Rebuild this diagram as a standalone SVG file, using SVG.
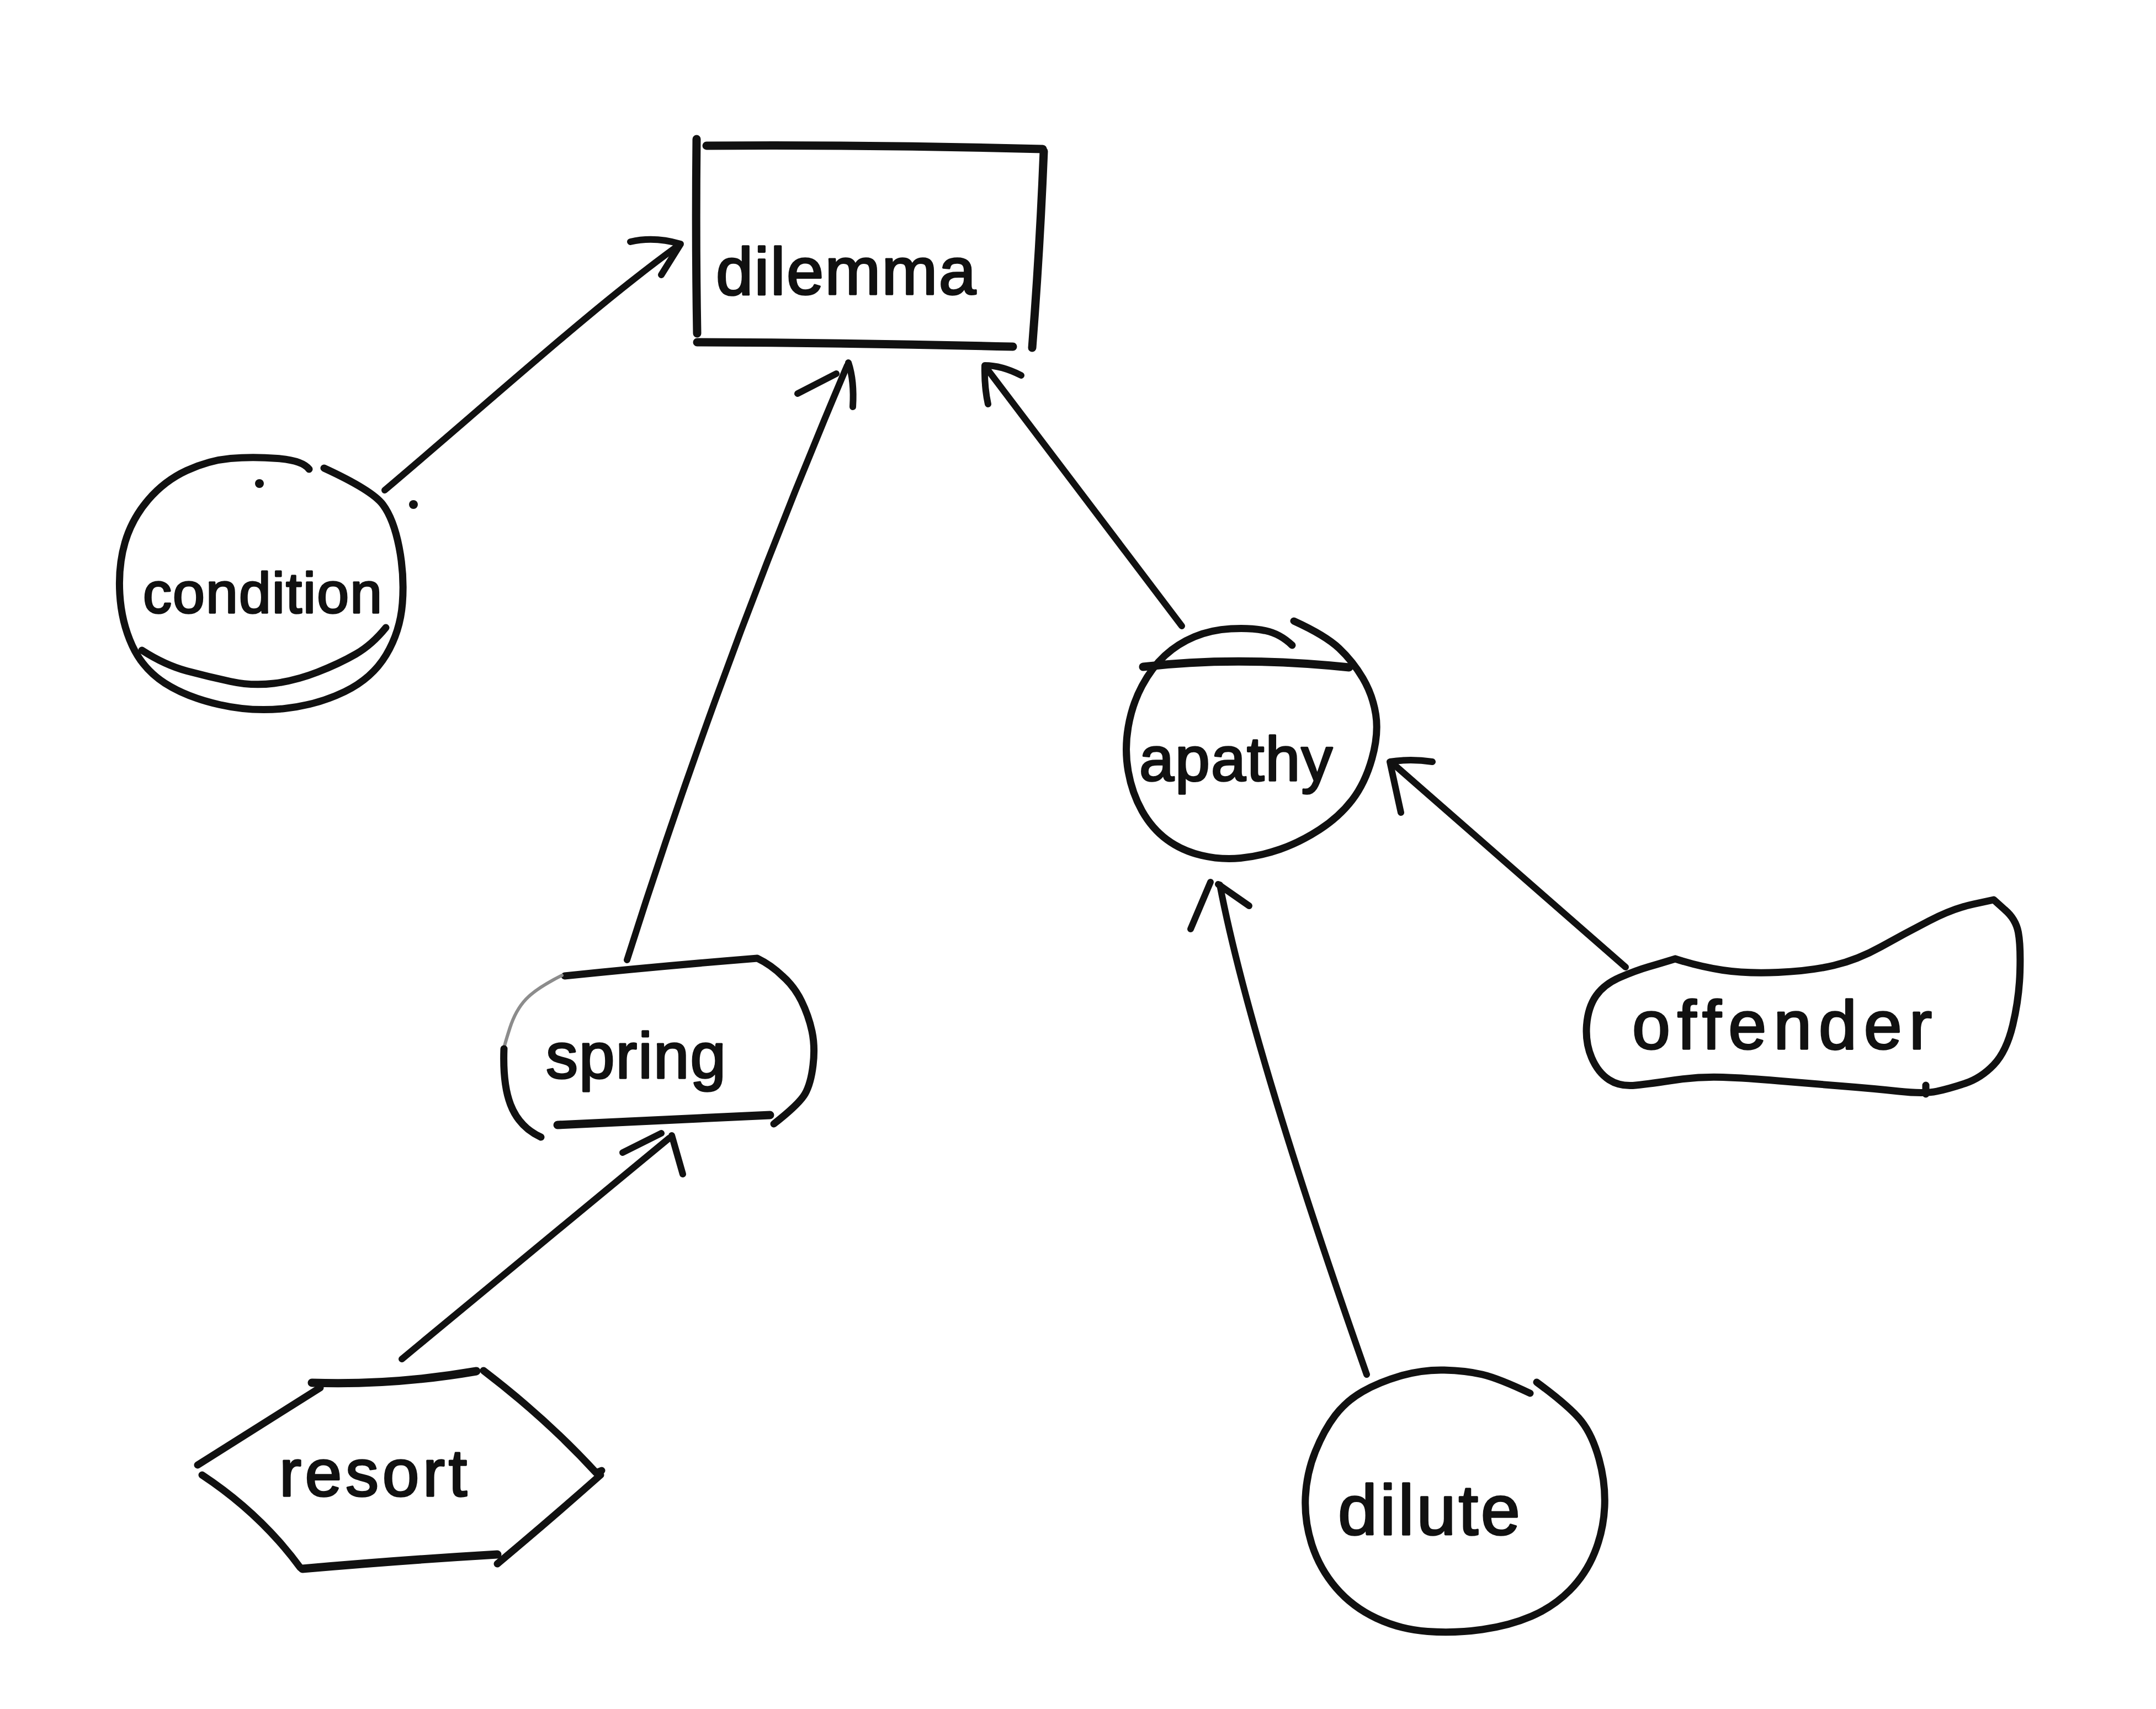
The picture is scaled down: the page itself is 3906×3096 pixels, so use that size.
<svg xmlns="http://www.w3.org/2000/svg" width="3906" height="3096" viewBox="0 0 3906 3096">
  <style>
    .ink { fill: none; stroke: #111; stroke-width: 13; stroke-linecap: round; stroke-linejoin: round; }
    .heavy { stroke-width: 15; }
    .wire { fill: none; stroke: #111; stroke-width: 12; stroke-linecap: round; stroke-linejoin: round; }
    .faint { fill: none; stroke: #8c8c8c; stroke-width: 6; stroke-linecap: round; }
    .label { font-family: "Liberation Sans", Arial, sans-serif; fill: #111; stroke: #111; stroke-width: 3.5; stroke-linejoin: round; paint-order: stroke; }
    .speck { fill: #111; }
  </style>
  <rect x="0" y="0" width="3906" height="3096" fill="#ffffff"/>

  <!-- connectors -->
  <g id="connectors">
    <!-- condition -> dilemma -->
    <g id="edge-condition-dilemma">
      <path class="wire" d="M697,888 C900,716 1080,552 1230,444"/>
      <path class="wire" d="M1142,438 Q1185,428 1233,442 L1198,498"/>
    </g>
    <!-- spring -> dilemma -->
    <g id="edge-spring-dilemma">
      <path class="wire" d="M1136,1739 Q1310,1190 1535,662"/>
      <path class="wire" d="M1515,677 L1445,713"/>
      <path class="wire" d="M1537,657 Q1548,690 1545,737"/>
    </g>
    <!-- apathy -> dilemma -->
    <g id="edge-apathy-dilemma">
      <path class="wire" d="M2141,1134 L1788,668"/>
      <path class="wire" d="M1790,732 Q1783,700 1784,662 Q1815,662 1850,680"/>
    </g>
    <!-- offender -> apathy -->
    <g id="edge-offender-apathy">
      <path class="wire" d="M2945,1752 L2522,1382"/>
      <path class="wire" d="M2538,1472 L2518,1380 Q2555,1374 2595,1380"/>
    </g>
    <!-- dilute -> apathy -->
    <g id="edge-dilute-apathy">
      <path class="wire" d="M2476,2490 Q2265,1890 2210,1603"/>
      <path class="wire" d="M2193,1598 L2157,1683"/>
      <path class="wire" d="M2207,1602 L2263,1641"/>
    </g>
    <!-- resort -> spring -->
    <g id="edge-resort-spring">
      <path class="wire" d="M728,2462 L1212,2062"/>
      <path class="wire" d="M1198,2053 L1128,2088"/>
      <path class="wire" d="M1217,2057 L1237,2127"/>
    </g>
  </g>

  <!-- dilemma: open rectangle -->
  <g id="node-dilemma">
    <path class="ink heavy" d="M1262,252 Q1260,430 1263,604"/>
    <path class="ink heavy" d="M1280,264 Q1585,262 1889,270"/>
    <path class="ink heavy" d="M1891,274 Q1884,450 1870,630"/>
    <path class="ink heavy" d="M1263,620 Q1550,621 1835,628"/>
    <text class="label" x="1297" y="533" font-size="121" textLength="471" lengthAdjust="spacing">dilemma</text>
  </g>

  <!-- condition: circle with inner lower arc -->
  <g id="node-condition">
    <path class="ink" d="M560,850 Q548,834 502.5,830.5 Q457,827 417.5,830.5 Q378,834 338,852.5 Q298,871 268.5,905.5 Q239,940 226.5,982.5 Q214,1025 217,1076 Q220,1127 239.5,1169.5 Q259,1212 298.5,1237.5 Q338,1263 397.5,1276.5 Q457,1290 516,1283.5 Q575,1277 624.5,1253 Q674,1229 699.5,1186.5 Q725,1144 729,1093 Q733,1042 723,991 Q713,940 693.5,914 Q674,888 587,848"/>
    <path class="ink" d="M257,1178 Q299,1205 338.5,1215.5 Q378,1226 417.5,1234.5 Q457,1243 496.5,1238 Q536,1233 575.5,1217.5 Q615,1202 644.5,1185 Q674,1168 699,1137"/>
    <circle class="speck" cx="470" cy="876" r="8"/>
    <circle class="speck" cx="749" cy="914" r="8"/>
    <text class="label" x="259" y="1110" font-size="104" textLength="433" lengthAdjust="spacing">condition</text>
  </g>

  <!-- apathy: circle crossed by a top chord -->
  <g id="node-apathy">
    <path class="ink" d="M2341,1169 Q2319,1148 2292.5,1142.5 Q2266,1137 2230,1139 Q2194,1141 2164,1153.5 Q2134,1166 2110.5,1187.5 Q2087,1209 2069,1242.5 Q2051,1276 2044,1317 Q2037,1358 2044,1397.5 Q2051,1437 2069,1469 Q2087,1501 2114,1521 Q2141,1541 2176.5,1549.5 Q2212,1558 2247.5,1554.5 Q2283,1551 2319,1538.5 Q2355,1526 2390.5,1503 Q2426,1480 2449.5,1449.5 Q2473,1419 2485.5,1374.5 Q2498,1330 2492.5,1294.5 Q2487,1259 2469,1228.5 Q2451,1198 2426,1174.5 Q2401,1151 2344,1125"/>
    <path class="ink heavy" d="M2071,1208 Q2240,1188 2444,1209"/>
    <text class="label" x="2064" y="1414" font-size="113" textLength="350" lengthAdjust="spacing">apathy</text>
  </g>

  <!-- spring: rounded box, upper-left arc drawn faint -->
  <g id="node-spring">
    <path class="ink" d="M1023,1768 Q1187,1751 1372,1736 Q1397,1748 1418,1768.5 Q1439,1787 1452,1813.5 Q1465,1840 1471,1868 Q1477,1896 1473,1929.5 Q1469,1963 1458.5,1981.5 Q1448,2000 1402,2036"/>
    <path class="faint" d="M1018,1767 Q972,1790 953,1810 Q934,1830 923.5,1863 Q913,1896 913,1900"/>
    <path class="ink" d="M913,1900 C910,1980 925,2035 980,2060"/>
    <path class="ink heavy" d="M1010,2038 L1395,2020"/>
    <text class="label" x="989" y="1953" font-size="116" textLength="326" lengthAdjust="spacing">spring</text>
  </g>

  <!-- offender: freeform blob -->
  <g id="node-offender">
    <path class="ink" d="M3035,1737 Q3078,1751 3121,1757.5 Q3164,1764 3221.5,1761.5 Q3279,1759 3322,1749 Q3365,1739 3408,1715 Q3451,1691 3494.5,1668.5 Q3538,1646 3575,1638 L3612,1630 L3632,1648 Q3652,1665 3656.5,1689 Q3661,1713 3659.5,1761 Q3658,1809 3646.5,1857 Q3635,1905 3612,1929 Q3589,1953 3560.5,1962.5 Q3532,1972 3509,1977 Q3486,1982 3440,1977 Q3394,1972 3336.5,1967.5 Q3279,1963 3221.5,1958 Q3164,1953 3121,1951.5 Q3078,1950 3035,1956.5 Q2992,1963 2963.5,1966 Q2935,1969 2915,1956 Q2895,1943 2883.5,1916 Q2872,1889 2874.5,1857 Q2877,1825 2891.5,1804 Q2906,1783 2935,1770.5 Q2964,1758 2986.5,1751.5 Q3009,1745 3035,1737"/>
    <path class="ink" d="M3489,1966 L3489,1982"/>
    <text class="label" x="2957" y="1900" font-size="124" textLength="543" lengthAdjust="spacing">offender</text>
  </g>

  <!-- resort: hexagon drawn as separate strokes -->
  <g id="node-resort">
    <path class="ink heavy" d="M565,2505 Q712,2510 863,2484"/>
    <path class="ink" d="M876,2483 Q990,2570 1080,2668 L1090,2664"/>
    <path class="ink" d="M1088,2672 Q1000,2750 901,2833"/>
    <path class="ink heavy" d="M901,2816 Q731,2826 548,2842"/>
    <path class="ink" d="M544,2840 Q472,2742 366,2672"/>
    <path class="ink" d="M358,2654 L580,2514"/>
    <text class="label" x="506" y="2710" font-size="120" textLength="340" lengthAdjust="spacing">resort</text>
  </g>

  <!-- dilute: circle with a small gap at the top right -->
  <g id="node-dilute">
    <path class="ink" d="M2772,2524 Q2715,2497 2685.5,2490 Q2656,2483 2616.5,2482 Q2577,2481 2537.5,2492.5 Q2498,2504 2468.5,2521 Q2439,2538 2419,2564 Q2399,2590 2383,2629.5 Q2367,2669 2365,2712.5 Q2363,2756 2377,2799 Q2391,2842 2420.5,2876.5 Q2450,2911 2493.5,2931.5 Q2537,2952 2586.5,2955.5 Q2636,2959 2685.5,2952 Q2735,2945 2774.5,2928 Q2814,2911 2843.5,2881.5 Q2873,2852 2889,2812.5 Q2905,2773 2907,2730 Q2909,2687 2897,2643.5 Q2885,2600 2865,2574.5 Q2845,2549 2784,2504"/>
    <text class="label" x="2424" y="2780" font-size="128" textLength="330" lengthAdjust="spacing">dilute</text>
  </g>
</svg>
